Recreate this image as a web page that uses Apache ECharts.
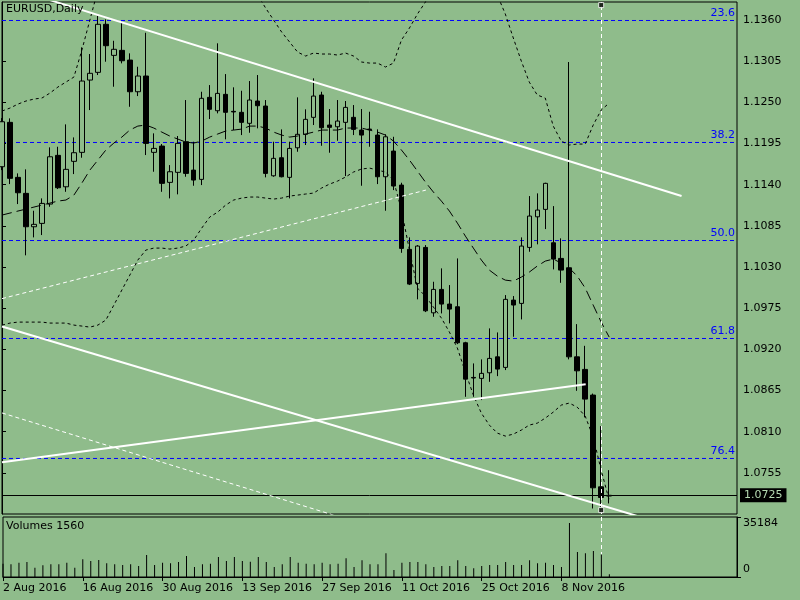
<!DOCTYPE html>
<html><head><meta charset="utf-8">
<script src="https://cdn.jsdelivr.net/npm/echarts@6/dist/echarts.min.js"></script>
<style>html,body{margin:0;padding:0;background:#8fbc8b}#c{width:800px;height:600px}</style>
</head><body><div id="c"></div>
<script>
const dates = ['2 Aug 2016','3 Aug 2016','4 Aug 2016','5 Aug 2016','8 Aug 2016','9 Aug 2016','10 Aug 2016','11 Aug 2016','12 Aug 2016','15 Aug 2016',
'16 Aug 2016','17 Aug 2016','18 Aug 2016','19 Aug 2016','22 Aug 2016','23 Aug 2016','24 Aug 2016','25 Aug 2016','26 Aug 2016','29 Aug 2016',
'30 Aug 2016','31 Aug 2016','1 Sep 2016','2 Sep 2016','5 Sep 2016','6 Sep 2016','7 Sep 2016','8 Sep 2016','9 Sep 2016','12 Sep 2016',
'13 Sep 2016','14 Sep 2016','15 Sep 2016','16 Sep 2016','19 Sep 2016','20 Sep 2016','21 Sep 2016','22 Sep 2016','23 Sep 2016','26 Sep 2016',
'27 Sep 2016','28 Sep 2016','29 Sep 2016','30 Sep 2016','3 Oct 2016','4 Oct 2016','5 Oct 2016','6 Oct 2016','7 Oct 2016','10 Oct 2016',
'11 Oct 2016','12 Oct 2016','13 Oct 2016','14 Oct 2016','17 Oct 2016','18 Oct 2016','19 Oct 2016','20 Oct 2016','21 Oct 2016','24 Oct 2016',
'25 Oct 2016','26 Oct 2016','27 Oct 2016','28 Oct 2016','31 Oct 2016','1 Nov 2016','2 Nov 2016','3 Nov 2016','4 Nov 2016','7 Nov 2016',
'8 Nov 2016','9 Nov 2016','10 Nov 2016','11 Nov 2016','14 Nov 2016','15 Nov 2016','16 Nov 2016'];
const dateTickLabels = ['2 Aug 2016','16 Aug 2016','30 Aug 2016','13 Sep 2016','27 Sep 2016','11 Oct 2016','25 Oct 2016','8 Nov 2016'];

const opens = [1.11640,1.12233,1.11498,1.11284,1.10838,1.10883,1.11141,1.11792,1.11372,1.11712,
1.11832,1.12798,1.12901,1.13543,1.13128,1.13195,1.13065,1.12642,1.12852,1.11832,
1.11916,1.11431,1.11565,1.11974,1.11595,1.11471,1.12567,1.12388,1.12607,1.12380,
1.12367,1.12220,1.12518,1.12451,1.11519,1.11760,1.11498,1.11893,1.12073,1.12300,
1.12598,1.12197,1.12174,1.12233,1.12300,1.12130,1.12143,1.12063,1.11506,1.11849,
1.11395,1.10536,1.10081,1.10562,1.09688,1.10001,1.09805,1.09769,1.09288,1.08825,
1.08812,1.08887,1.09100,1.08959,1.09858,1.09814,1.10562,1.10971,1.11070,1.10624,
1.10415,1.10290,1.09100,1.08932,1.08589,1.07363,1.07240];
const highs = [1.12290,1.12286,1.11551,1.11605,1.11052,1.11217,1.11899,1.11907,1.12206,1.12032,
1.13235,1.13146,1.13654,1.13609,1.13323,1.13577,1.13155,1.12976,1.13430,1.12086,
1.11943,1.11662,1.12050,1.12531,1.11974,1.12642,1.12731,1.13289,1.12878,1.12701,
1.12655,1.12785,1.12865,1.12531,1.11974,1.12139,1.11974,1.12567,1.12407,1.12821,
1.12642,1.12411,1.12531,1.12518,1.12464,1.12411,1.12375,1.12139,1.12073,1.12040,
1.11426,1.10696,1.10593,1.10593,1.10103,1.10282,1.10059,1.10415,1.09301,1.09012,
1.09066,1.09480,1.09426,1.09925,1.09912,1.10696,1.11248,1.11284,1.11426,1.11114,
1.10683,1.13039,1.09537,1.09247,1.08609,1.08174,1.07586];
const lows = [1.11595,1.11408,1.11141,1.10456,1.10696,1.10727,1.11105,1.11342,1.11305,1.11542,
1.11760,1.12397,1.12865,1.13043,1.12709,1.13021,1.12441,1.12584,1.11796,1.11573,
1.11305,1.11217,1.11271,1.11506,1.11386,1.11395,1.12277,1.12353,1.12006,1.12130,
1.12063,1.12094,1.12153,1.11498,1.11506,1.11498,1.11217,1.11840,1.11930,1.12197,
1.11920,1.11827,1.11987,1.11515,1.12063,1.11386,1.11907,1.11408,1.11052,1.11328,
1.10490,1.10059,1.09868,1.09698,1.09635,1.09680,1.09547,1.09270,1.08566,1.08566,
1.08522,1.08766,1.08842,1.08923,1.09368,1.09600,1.10504,1.10603,1.10807,1.10268,
1.10089,1.09066,1.08646,1.08291,1.07074,1.07096,1.07141];
const closes = [1.12241,1.11485,1.11292,1.10838,1.10870,1.11150,1.11773,1.11359,1.11605,1.11827,
1.12785,1.12888,1.13543,1.13257,1.13209,1.13056,1.12642,1.12852,1.11952,1.11885,
1.11418,1.11573,1.11952,1.11551,1.11462,1.12554,1.12407,1.12620,1.12367,1.12372,
1.12233,1.12531,1.12455,1.11551,1.11752,1.11506,1.11885,1.12073,1.12273,1.12584,
1.12161,1.12166,1.12250,1.12433,1.12139,1.12063,1.12135,1.11506,1.12040,1.11382,
1.10549,1.10072,1.10580,1.09715,1.10001,1.09805,1.09738,1.09288,1.08802,1.08817,
1.08879,1.09079,1.08936,1.09868,1.09792,1.10580,1.10981,1.11061,1.11418,1.10406,
1.10259,1.09100,1.08913,1.08535,1.07350,1.07221,1.07250];
const volumes = [7800,7430,8410,8800,5470,6840,7430,7430,8410,5470,
10360,9380,9970,8020,7430,7040,7430,6450,12900,7040,
8410,8020,8800,12320,5870,7430,7820,11730,9380,11730,
9380,8990,11730,8800,5870,7430,11730,8410,7820,7430,
8410,7430,7820,10950,5870,9780,7430,7430,13880,4110,
8410,8800,8800,7430,5870,6450,6450,9780,6450,5080,
6450,7040,7040,8800,7040,7040,9780,8020,8410,7040,
5870,31670,14660,13880,15250,13290,1560];

const bbUpper = [1.12384,1.12424,1.12477,1.12518,1.12544,1.12558,1.12624,1.12705,1.12771,1.12838,
1.13199,1.13600,1.14001,1.14201,1.14335,1.14402,1.14440,1.14480,1.14500,1.14490,
1.14470,1.14460,1.14450,1.14460,1.14470,1.14460,1.14450,1.14440,1.14420,1.14402,
1.14268,1.14135,1.13934,1.13760,1.13600,1.13440,1.13306,1.13172,1.13119,1.13159,
1.13146,1.13146,1.13132,1.13159,1.13119,1.13039,1.13025,1.13025,1.12972,1.13025,
1.13333,1.13493,1.13680,1.13841,1.14068,1.14242,1.14335,1.14402,1.14402,1.14335,
1.14242,1.14135,1.13934,1.13680,1.13360,1.13052,1.12771,1.12598,1.12558,1.12183,
1.11983,1.11930,1.11943,1.11943,1.12197,1.12397,1.12491];
const bbMiddle = [1.10994,1.11021,1.11048,1.11074,1.11101,1.11128,1.11154,1.11181,1.11195,1.11261,
1.11422,1.11595,1.11729,1.11863,1.11956,1.12036,1.12130,1.12183,1.12197,1.12157,
1.12103,1.12050,1.12010,1.11970,1.11956,1.11983,1.12036,1.12077,1.12117,1.12130,
1.12143,1.12183,1.12183,1.12157,1.12103,1.12063,1.12036,1.12050,1.12077,1.12103,
1.12130,1.12130,1.12130,1.12157,1.12157,1.12157,1.12130,1.12103,1.12063,1.11983,
1.11863,1.11729,1.11582,1.11435,1.11301,1.11181,1.11048,1.10887,1.10713,1.10553,
1.10393,1.10259,1.10179,1.10125,1.10112,1.10165,1.10232,1.10313,1.10379,1.10406,
1.10353,1.10286,1.10179,1.10019,1.09791,1.09564,1.09364];
const bbLower = [1.09524,1.09551,1.09564,1.09564,1.09564,1.09564,1.09551,1.09551,1.09551,1.09524,
1.09511,1.09497,1.09524,1.09591,1.09791,1.09992,1.10192,1.10393,1.10526,1.10553,
1.10553,1.10540,1.10553,1.10580,1.10660,1.10820,1.10967,1.11034,1.11128,1.11195,
1.11221,1.11235,1.11235,1.11221,1.11208,1.11221,1.11248,1.11261,1.11275,1.11288,
1.11355,1.11408,1.11448,1.11502,1.11569,1.11609,1.11622,1.11595,1.11569,1.11462,
1.11061,1.10526,1.10019,1.09912,1.09765,1.09618,1.09431,1.09217,1.08896,1.08589,
1.08348,1.08188,1.08081,1.08041,1.08067,1.08121,1.08188,1.08214,1.08281,1.08361,
1.08455,1.08482,1.08428,1.08308,1.08027,1.07586,1.07185];

const priceTicks = [1.0755,1.0810,1.0865,1.0920,1.0975,1.1030,1.1085,1.1140,1.1195,1.1250,1.1305,1.1360];
const volumeTicks = [0, 35184];
const fibLevels = [1.13594, 1.11964, 1.10654, 1.09345, 1.07742];
const fibLabels = ['23.6', '38.2', '50.0', '61.8', '76.4'];
const lastPrice = 1.0725;

// trend lines: [barIndex, price]
const channelTop = [[6, 1.13866], [85.06, 1.11248]];
const channelBottom = [[0, 1.09506], [80, 1.06958]];
const risingLine = [[0, 1.07693], [73.06, 1.08733]];
const dashedRising = [[0, 1.09878], [53.06, 1.11328]];
const dashedFalling = [[0, 1.08350], [42, 1.06969]];
const vLineBar = 75;
const anchorPoints = [[75, 1.13800], [75, 1.07052]];

const BG = '#8fbc8b';
const FONT = 'DejaVu Sans';
const N = 93;
const cats = dates.slice();
for (let i = dates.length; i < N; i++) cats.push('_' + i);
const candleData = opens.map((o, i) => [o, closes[i], lows[i], highs[i]]);
const tickIdx = dateTickLabels.map(d => dates.indexOf(d));
const showIdx = (i) => tickIdx.indexOf(i) >= 0;

const chart = echarts.init(document.getElementById('c'));
function overlay(data, w, type, color, z) {
  return { type: 'line', xAxisIndex: 2, yAxisIndex: 0, data: data, showSymbol: false, silent: true,
    lineStyle: { color: color || '#ffffff', width: w, type: type }, z: z || 4, clip: true };
}
const fibSeries = fibLevels.map((lv) => overlay([[0, lv], [N - 1, lv]], 1, [4, 3], '#0000ff', 2));
const fibLabelMarks = fibLevels.map((lv, i) => ({ yAxis: lv,
  lineStyle: { color: '#0000ff', width: 0 },
  label: { show: true, position: 'insideEndTop', formatter: fibLabels[i], color: '#0000ff', fontFamily: FONT, fontSize: 11, distance: 2 } }));
const priceMark = { yAxis: lastPrice, lineStyle: { color: '#000', type: 'solid', width: 1 },
  label: { show: true, position: 'end', formatter: lastPrice.toFixed(4), backgroundColor: '#000', color: '#b4d8b0', padding: [2, 4, 1, 4], distance: 3, fontFamily: FONT, fontSize: 11 } };
const vMark = { xAxis: vLineBar, lineStyle: { color: '#fff', type: [4, 3], width: 1 }, label: { show: false } };

chart.setOption({
  animation: false,
  backgroundColor: BG,
  textStyle: { fontFamily: FONT, fontSize: 11, color: '#000' },
  title: [
    { text: 'EURUSD,Daily', left: 6, top: 4, padding: 0, textStyle: { fontFamily: FONT, fontSize: 11, fontWeight: 'normal', color: '#000' } },
    { text: 'Volumes 1560', left: 6, top: 521, padding: 0, textStyle: { fontFamily: FONT, fontSize: 11, fontWeight: 'normal', color: '#000' } }
  ],
  grid: [
    { left: 2, right: 63, top: 2, height: 512, show: true, borderColor: '#000', borderWidth: 1, backgroundColor: 'transparent' },
    { left: 2, right: 63, top: 517, height: 60, show: true, borderColor: '#000', borderWidth: 1, backgroundColor: 'transparent' }
  ],
  xAxis: [
    { type: 'category', gridIndex: 0, data: cats, boundaryGap: false, show: false },
    { type: 'category', gridIndex: 1, data: cats, boundaryGap: false,
      axisLine: { show: true, lineStyle: { color: '#000' } },
      axisTick: { show: true, length: 4, interval: (i) => showIdx(i), lineStyle: { color: '#000' } },
      axisLabel: { interval: (i) => showIdx(i), align: 'left', margin: 6, color: '#000', fontFamily: FONT, fontSize: 11 },
      splitLine: { show: false } },
    { type: 'value', gridIndex: 0, min: 0, max: N - 1, show: false }
  ],
  yAxis: [
    { type: 'value', gridIndex: 0, position: 'right', min: 1.0700, max: 1.13841, interval: 0.0055, scale: true,
      axisLine: { show: true, lineStyle: { color: '#000' } },
      axisTick: { show: true, length: 4, customValues: priceTicks, lineStyle: { color: '#000' } },
      axisLabel: { customValues: priceTicks, formatter: (v) => v.toFixed(4), margin: 6, color: '#000', fontFamily: FONT, fontSize: 11 },
      splitLine: { show: false } },
    { type: 'value', gridIndex: 1, position: 'right', min: 0, max: 35184,
      axisLine: { show: true, lineStyle: { color: '#000' } },
      axisTick: { show: true, length: 4, customValues: volumeTicks, lineStyle: { color: '#000' } },
      axisLabel: { customValues: volumeTicks, margin: 6, color: '#000', fontFamily: FONT, fontSize: 11,
        formatter: (v) => v === 0 ? '{b|0}' : '{t|' + v + '}',
        rich: { t: { padding: [12, 0, 0, 0], fontFamily: FONT, fontSize: 11 }, b: { padding: [0, 0, 16, 0], fontFamily: FONT, fontSize: 11 } } },
      splitLine: { show: false } }
  ],
  series: fibSeries.concat([
    { type: 'line', xAxisIndex: 2, yAxisIndex: 0, data: anchorPoints, showSymbol: false, silent: true, z: 2,
      lineStyle: { width: 0, opacity: 0 },
      markLine: { silent: true, symbol: 'none', precision: 5, z: 2, data: fibLabelMarks.concat([priceMark]) } },
    { type: 'candlestick', xAxisIndex: 0, yAxisIndex: 0, data: candleData, barWidth: 5, z: 3,
      itemStyle: { color: BG, color0: '#000', borderColor: '#000', borderColor0: '#000', borderColorDoji: '#000', borderWidth: 1 } },
    { type: 'line', xAxisIndex: 0, yAxisIndex: 0, data: bbUpper, showSymbol: false, silent: true, z: 4, lineStyle: { color: '#000', width: 1, type: [3, 3] } },
    { type: 'line', xAxisIndex: 0, yAxisIndex: 0, data: bbMiddle, showSymbol: false, silent: true, z: 4, lineStyle: { color: '#000', width: 1, type: [10, 5] } },
    { type: 'line', xAxisIndex: 0, yAxisIndex: 0, data: bbLower, showSymbol: false, silent: true, z: 4, lineStyle: { color: '#000', width: 1, type: [3, 3] } },
    overlay(channelTop, 2, 'solid'),
    overlay(channelBottom, 2, 'solid'),
    overlay(risingLine, 2, 'solid'),
    overlay(dashedRising, 1, [4, 3]),
    overlay(dashedFalling, 1, [4, 3]),
    { type: 'scatter', xAxisIndex: 2, yAxisIndex: 0, data: anchorPoints, symbol: 'rect', symbolSize: 5, silent: true, z: 6,
      itemStyle: { color: '#000', borderColor: '#fff', borderWidth: 1 },
      markLine: { silent: true, symbol: 'none', precision: 5, z: 5, data: [vMark] } },
    { type: 'bar', xAxisIndex: 1, yAxisIndex: 1, data: volumes, barWidth: 1, silent: true, itemStyle: { color: '#000' },
      markLine: { silent: true, symbol: 'none', label: { show: false },
        lineStyle: { color: '#fff', type: [4, 3], width: 1 },
        data: [[{ coord: [dates[vLineBar], volumeTicks[1]] }, { coord: [dates[vLineBar], volumes[vLineBar]] }]] } }
  ])
});
</script></body></html>
